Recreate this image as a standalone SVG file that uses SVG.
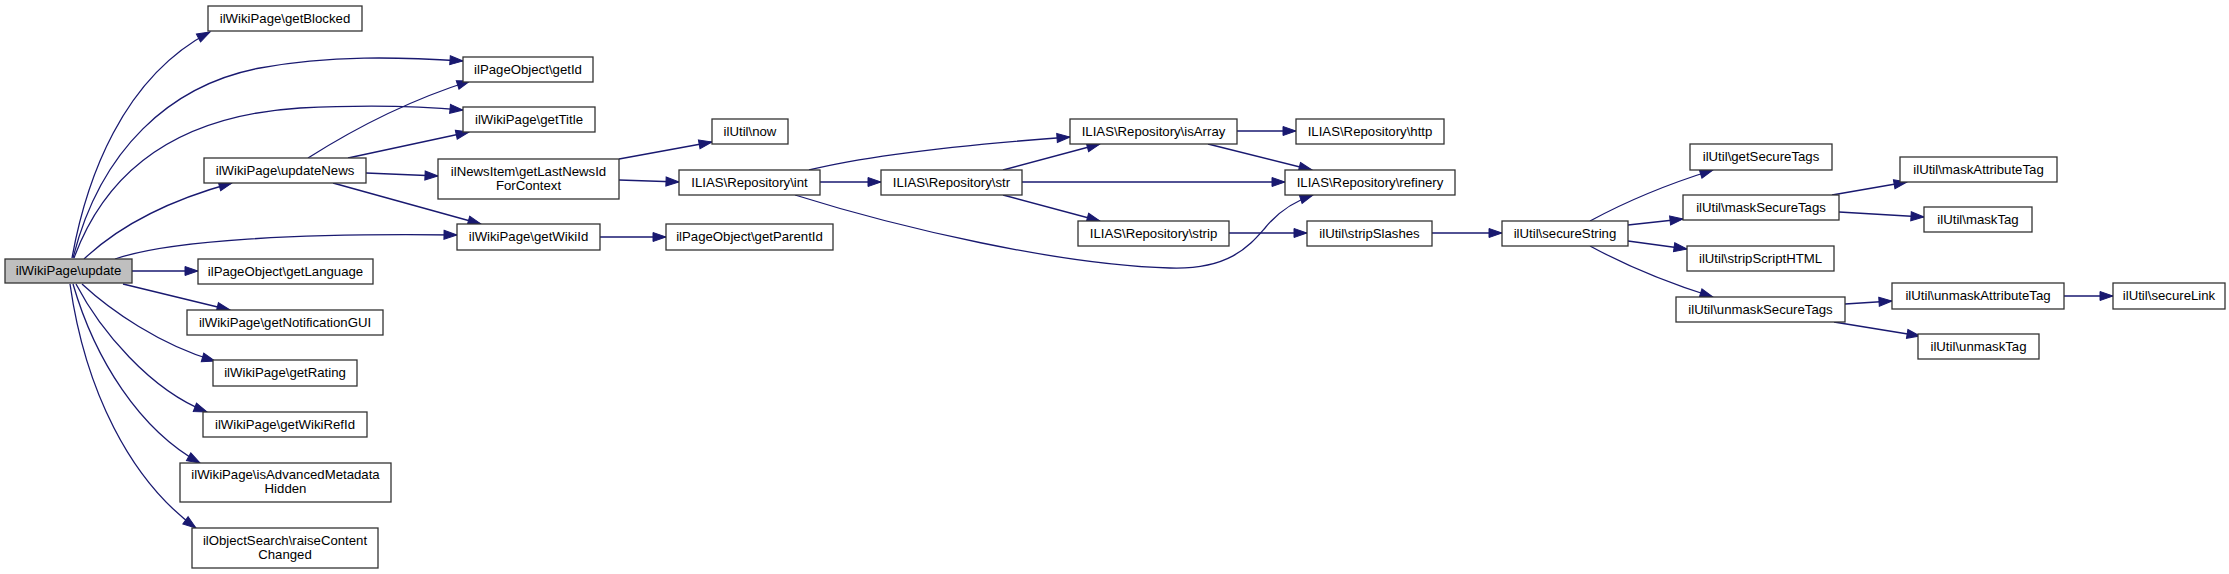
<svg xmlns="http://www.w3.org/2000/svg" width="2229" height="574" viewBox="0 0 2229 574">
<style>
.node rect{fill:#ffffff;stroke:#333333;stroke-width:1.3}
.node.root rect{fill:#bfbfbf}
.node text{font-family:"Liberation Sans",Arial,sans-serif;font-size:13.2px;fill:#000000;text-anchor:middle}
.edges path{fill:none;stroke:#191970;stroke-width:1.3;marker-end:url(#arr)}
</style>
<defs>
<marker id="arr" markerUnits="userSpaceOnUse" markerWidth="14" markerHeight="10" refX="13" refY="4.5" orient="auto" overflow="visible">
<path d="M0,0 L13,4.5 L0,9 Z" fill="#191970" stroke="#191970" stroke-width="1"/>
</marker>
</defs>
<rect width="2229" height="574" fill="#ffffff"/>
<g class="edges" id="edges">
<path d="M72,258 C86,180 122,78 210,32"/>
<path d="M73,258 C100,150 170,85 260,68 C330,55 400,57 463,61"/>
<path d="M74,258 C110,160 190,115 300,108 C380,104 430,107 463,110"/>
<path d="M84,259 C120,225 170,200 232,183"/>
<path d="M115,259 C170,240 300,233 457,235"/>
<path d="M132,271 L198,271"/>
<path d="M123,284 L230,310"/>
<path d="M82,284 C110,310 160,345 215,361"/>
<path d="M76,284 C100,330 150,390 207,412"/>
<path d="M73,284 C95,360 140,430 200,463"/>
<path d="M70,284 C85,390 130,480 196,528"/>
<path d="M308,158 C360,125 410,100 470,81"/>
<path d="M348,158 L469,132"/>
<path d="M366,173 L438,176"/>
<path d="M333,183 L481,224"/>
<path d="M619,159 L712,142"/>
<path d="M619,180 L679,182"/>
<path d="M600,237 L666,237"/>
<path d="M809,170 C870,155 960,145 1070,137"/>
<path d="M820,182 L881,182"/>
<path d="M795,195 C900,228 1060,265 1170,268 C1230,270 1250,245 1265,228 C1278,212 1292,202 1313,195"/>
<path d="M1003,170 L1100,144"/>
<path d="M1022,182 L1285,182"/>
<path d="M1003,195 L1100,221"/>
<path d="M1237,131 L1296,131"/>
<path d="M1208,144 L1312,170"/>
<path d="M1229,233 L1307,233"/>
<path d="M1432,233 L1502,233"/>
<path d="M1590,221 C1625,202 1665,185 1713,170"/>
<path d="M1628,225 L1683,219"/>
<path d="M1628,241 L1687,249"/>
<path d="M1590,246 C1625,265 1665,282 1713,297"/>
<path d="M1832,195 L1907,182"/>
<path d="M1839,212 L1924,217"/>
<path d="M1845,304 L1892,301"/>
<path d="M1834,322 L1920,336"/>
<path d="M2064,296 L2113,296"/>
</g>
<g class="node root" id="n_update"><rect x="5" y="259" width="127" height="24"/><text x="68.5" y="275">ilWikiPage\update</text></g>
<g class="node" id="n_getBlocked"><rect x="208" y="6" width="154" height="25"/><text x="285" y="22.5">ilWikiPage\getBlocked</text></g>
<g class="node" id="n_getId"><rect x="463" y="57" width="130" height="25"/><text x="528" y="73.5">ilPageObject\getId</text></g>
<g class="node" id="n_getTitle"><rect x="463" y="107" width="132" height="25"/><text x="529" y="123.5">ilWikiPage\getTitle</text></g>
<g class="node" id="n_updateNews"><rect x="204" y="158" width="162" height="25"/><text x="285" y="174.5">ilWikiPage\updateNews</text></g>
<g class="node" id="n_getWikiId"><rect x="457" y="224" width="143" height="26"/><text x="528.5" y="241">ilWikiPage\getWikiId</text></g>
<g class="node" id="n_getLanguage"><rect x="198" y="259" width="175" height="25"/><text x="285.5" y="275.5">ilPageObject\getLanguage</text></g>
<g class="node" id="n_getNotificationGUI"><rect x="187" y="310" width="196" height="25"/><text x="285" y="326.5">ilWikiPage\getNotificationGUI</text></g>
<g class="node" id="n_getRating"><rect x="213" y="360" width="144" height="26"/><text x="285" y="377">ilWikiPage\getRating</text></g>
<g class="node" id="n_getWikiRefId"><rect x="203" y="412" width="164" height="25"/><text x="285" y="428.5">ilWikiPage\getWikiRefId</text></g>
<g class="node" id="n_isAdvancedMetadataHidden"><rect x="180" y="463" width="211" height="39"/><text x="285.5" y="479">ilWikiPage\isAdvancedMetadata</text><text x="285.5" y="493">Hidden</text></g>
<g class="node" id="n_raiseContentChanged"><rect x="192" y="528" width="186" height="40"/><text x="285" y="544.5">ilObjectSearch\raiseContent</text><text x="285" y="558.5">Changed</text></g>
<g class="node" id="n_getLastNewsIdForContext"><rect x="438" y="159" width="181" height="40"/><text x="528.5" y="175.5">ilNewsItem\getLastNewsId</text><text x="528.5" y="189.5">ForContext</text></g>
<g class="node" id="n_now"><rect x="712" y="119" width="76" height="25"/><text x="750" y="135.5">ilUtil\now</text></g>
<g class="node" id="n_int"><rect x="679" y="170" width="141" height="25"/><text x="749.5" y="186.5">ILIAS\Repository\int</text></g>
<g class="node" id="n_getParentId"><rect x="666" y="224" width="167" height="26"/><text x="749.5" y="241">ilPageObject\getParentId</text></g>
<g class="node" id="n_isArray"><rect x="1070" y="119" width="167" height="25"/><text x="1153.5" y="135.5">ILIAS\Repository\isArray</text></g>
<g class="node" id="n_http"><rect x="1296" y="119" width="148" height="25"/><text x="1370" y="135.5">ILIAS\Repository\http</text></g>
<g class="node" id="n_str"><rect x="881" y="170" width="141" height="25"/><text x="951.5" y="186.5">ILIAS\Repository\str</text></g>
<g class="node" id="n_refinery"><rect x="1285" y="170" width="170" height="25"/><text x="1370" y="186.5">ILIAS\Repository\refinery</text></g>
<g class="node" id="n_strip"><rect x="1078" y="221" width="151" height="25"/><text x="1153.5" y="237.5">ILIAS\Repository\strip</text></g>
<g class="node" id="n_stripSlashes"><rect x="1307" y="221" width="125" height="25"/><text x="1369.5" y="237.5">ilUtil\stripSlashes</text></g>
<g class="node" id="n_secureString"><rect x="1502" y="221" width="126" height="25"/><text x="1565" y="237.5">ilUtil\secureString</text></g>
<g class="node" id="n_getSecureTags"><rect x="1690" y="144" width="142" height="26"/><text x="1761" y="161">ilUtil\getSecureTags</text></g>
<g class="node" id="n_maskSecureTags"><rect x="1683" y="195" width="156" height="25"/><text x="1761" y="211.5">ilUtil\maskSecureTags</text></g>
<g class="node" id="n_stripScriptHTML"><rect x="1687" y="246" width="147" height="25"/><text x="1760.5" y="262.5">ilUtil\stripScriptHTML</text></g>
<g class="node" id="n_unmaskSecureTags"><rect x="1676" y="297" width="169" height="25"/><text x="1760.5" y="313.5">ilUtil\unmaskSecureTags</text></g>
<g class="node" id="n_maskAttributeTag"><rect x="1900" y="157" width="157" height="25"/><text x="1978.5" y="173.5">ilUtil\maskAttributeTag</text></g>
<g class="node" id="n_maskTag"><rect x="1924" y="207" width="108" height="25"/><text x="1978" y="223.5">ilUtil\maskTag</text></g>
<g class="node" id="n_unmaskAttributeTag"><rect x="1892" y="283" width="172" height="26"/><text x="1978" y="300">ilUtil\unmaskAttributeTag</text></g>
<g class="node" id="n_secureLink"><rect x="2113" y="283" width="112" height="26"/><text x="2169" y="300">ilUtil\secureLink</text></g>
<g class="node" id="n_unmaskTag"><rect x="1918" y="334" width="121" height="25"/><text x="1978.5" y="350.5">ilUtil\unmaskTag</text></g>
</svg>
